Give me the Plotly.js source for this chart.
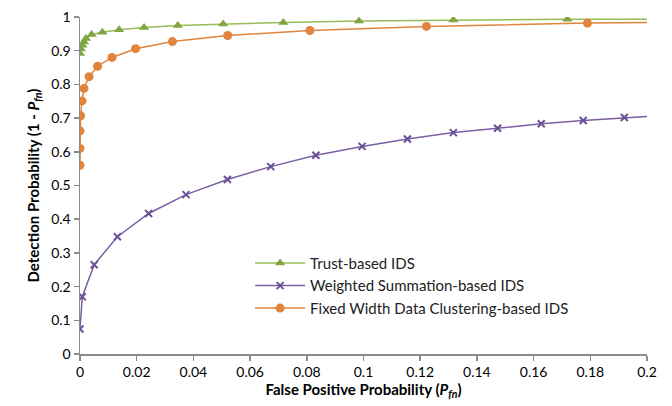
<!DOCTYPE html>
<html>
<head>
<meta charset="utf-8">
<script src="https://cdn.plot.ly/plotly-3.0.1.min.js"></script>
<style>html,body{margin:0;padding:0;background:#fff;}#chart{width:672px;height:406px;}</style>
</head>
<body>
<div id="chart"></div>
<script>
var trustX = [0, 0.0003, 0.0008, 0.0014, 0.0021, 0.0041, 0.0079, 0.0138, 0.0226, 0.0345, 0.0505, 0.0717, 0.0984, 0.1317, 0.1719, 0.215];
var trustY = [0.892, 0.905, 0.916, 0.926, 0.936, 0.948, 0.955, 0.962, 0.969, 0.975, 0.979, 0.984, 0.988, 0.991, 0.993, 0.994];

var wsX = [0, 0.0008, 0.005, 0.0132, 0.0242, 0.0374, 0.052, 0.0673, 0.0832, 0.0995, 0.1155, 0.1317, 0.1473, 0.1627, 0.1775, 0.192, 0.206];
var wsY = [0.074, 0.170, 0.265, 0.348, 0.417, 0.473, 0.518, 0.556, 0.590, 0.616, 0.638, 0.657, 0.670, 0.683, 0.693, 0.702, 0.708];

var fwX = [0, 0, 0, 0.0002, 0.0007, 0.0014, 0.0032, 0.0062, 0.0113, 0.0196, 0.0326, 0.0521, 0.0811, 0.1222, 0.179, 0.215];
var fwY = [0.560, 0.610, 0.662, 0.707, 0.751, 0.788, 0.823, 0.854, 0.880, 0.906, 0.927, 0.945, 0.960, 0.972, 0.982, 0.985];

var xTicks = [0, 0.02, 0.04, 0.06, 0.08, 0.1, 0.12, 0.14, 0.16, 0.18, 0.2];
var xTickText = ['0', '0.02', '0.04', '0.06', '0.08', '0.1', '0.12', '0.14', '0.16', '0.18', '0.2'];
var yTicks = [0, 0.1, 0.2, 0.3, 0.4, 0.5, 0.6, 0.7, 0.8, 0.9, 1];
var yTickText = ['0', '0.1', '0.2', '0.3', '0.4', '0.5', '0.6', '0.7', '0.8', '0.9', '1'];

var FONT = 'Lato, "Open Sans", sans-serif';

var traces = [
  {x: trustX, y: trustY, name: 'Trust-based IDS', mode: 'lines+markers',
   line: {color: '#9bbb59', width: 1.5},
   marker: {symbol: 'triangle-up', size: 9, color: '#7fa544'}},
  {x: wsX, y: wsY, name: 'Weighted Summation-based IDS', mode: 'lines+markers',
   line: {color: '#7a5fa3', width: 1.5},
   marker: {symbol: 'x-thin', size: 7, color: '#6b5096', line: {width: 2, color: '#6b5096'}}},
  {x: fwX, y: fwY, name: 'Fixed Width Data Clustering-based IDS', mode: 'lines+markers',
   line: {color: '#e0843e', width: 1.5},
   marker: {symbol: 'circle', size: 9, color: '#e0843e'}}
];

var layout = {
  width: 672, height: 406,
  margin: {l: 80, r: 25, t: 17, b: 52},
  paper_bgcolor: '#ffffff', plot_bgcolor: '#ffffff',
  font: {family: FONT, size: 14, color: '#000'},
  showlegend: true,
  legend: {x: 0.300, y: 0.318, xanchor: 'left', yanchor: 'top', bgcolor: 'rgba(0,0,0,0)',
           font: {family: FONT, size: 15, color: '#222'}, itemwidth: 50, tracegroupgap: 0},
  xaxis: {range: [0, 0.2], tickvals: xTicks, ticktext: xTickText, showgrid: false, zeroline: false,
          showline: true, linecolor: '#8c8c8c', linewidth: 1.5, ticks: 'outside', ticklen: 5,
          tickcolor: '#8c8c8c', tickwidth: 1.5, tickfont: {size: 14, family: FONT, color: '#000'},
          title: {text: '<b>False Positive Probability (<i>P<sub>fn</sub></i>)</b>', font: {size: 15, family: FONT, color: '#000'}, standoff: 3}},
  yaxis: {range: [0, 1], tickvals: yTicks, ticktext: yTickText, showgrid: false, zeroline: false,
          showline: true, linecolor: '#8c8c8c', linewidth: 1.5, ticks: 'outside', ticklen: 5,
          tickcolor: '#8c8c8c', tickwidth: 1.5, tickfont: {size: 14, family: FONT, color: '#000'},
          title: {text: '<b>Detection Probability (1 - <i>P<sub>fn</sub></i>)</b>', font: {size: 15, family: FONT, color: '#000'}, standoff: 8}}
};

Plotly.newPlot('chart', traces, layout, {displayModeBar: false, staticPlot: true});
</script>
</body>
</html>
